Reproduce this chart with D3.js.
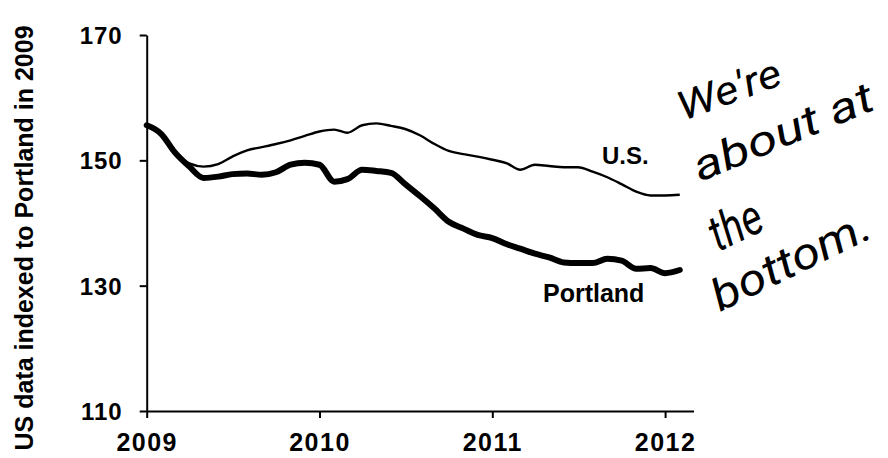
<!DOCTYPE html>
<html>
<head>
<meta charset="utf-8">
<script src="https://cdn.jsdelivr.net/npm/d3@7"></script>
<style>
  body { margin: 0; background: #fff; }
  svg { display: block; }
  text { font-family: "Liberation Sans", Arial, sans-serif; fill: #000; }
</style>
</head>
<body>
<script>
"use strict";

// monthly observations, Jan 2009 .. Feb 2012
const months = [
    "2009-01","2009-02","2009-03","2009-04","2009-05","2009-06","2009-07","2009-08","2009-09","2009-10","2009-11","2009-12",
    "2010-01","2010-02","2010-03","2010-04","2010-05","2010-06","2010-07","2010-08","2010-09","2010-10","2010-11","2010-12",
    "2011-01","2011-02","2011-03","2011-04","2011-05","2011-06","2011-07","2011-08","2011-09","2011-10","2011-11","2011-12",
    "2012-01","2012-02"
];

const usValues = [
    155.6, 154.2, 151.3, 149.5, 149.0, 149.4, 150.6, 151.6, 152.1, 152.6, 153.2, 153.9,
    154.6, 154.9, 154.4, 155.6, 155.9, 155.5, 155.0, 154.0, 152.6, 151.5, 151.0, 150.6,
    150.1, 149.5, 148.5, 149.3, 149.1, 148.9, 148.9, 148.2, 147.3, 146.2, 145.0, 144.4,
    144.4, 144.5
];

const portlandValues = [
    155.6, 154.2, 151.3, 149.0, 147.2, 147.4, 147.8, 147.9, 147.7, 148.1, 149.3, 149.6,
    149.3, 146.6, 147.0, 148.5, 148.3, 148.0, 146.2, 144.3, 142.3, 140.2, 139.1, 138.1,
    137.6, 136.6, 135.9, 135.1, 134.5, 133.7, 133.6, 133.6, 134.3, 134.0, 132.7, 132.8,
    132.0, 132.5
];

const yTicks = [110, 130, 150, 170];
const xTicks = ["2009", "2010", "2011", "2012"];
const noteLines = ["We're", "about at", "the", "bottom."];

const measurements = {
    width: 888,
    height: 458,
    left: 146.7,
    right: 693.5,
    top: 35,
    bottom: 411
};

const parseMonth = d3.timeParse("%Y-%m");
const parseYear = d3.timeParse("%Y");

const svg = d3.select("body").append("svg")
    .attr("width", measurements.width)
    .attr("height", measurements.height);

// axis runs a little past the last tick (to Mar 2012)
const scaleX = d3.scaleTime()
    .domain([parseMonth("2009-01"), parseMonth("2012-03")])
    .range([measurements.left, measurements.right]);

const scaleY = d3.scaleLinear()
    .domain([110, 170])
    .range([measurements.bottom, measurements.top]);

// axes
const yAxis = d3.axisLeft(scaleY)
    .tickValues(yTicks)
    .tickSize(7)
    .tickSizeOuter(0)
    .tickPadding(17)
    .tickFormat(d3.format("d"));

const xAxis = d3.axisBottom(scaleX)
    .tickValues(xTicks.map(parseYear))
    .tickSize(7)
    .tickSizeOuter(0)
    .tickPadding(15)
    .tickFormat(d3.timeFormat("%Y"));

const gy = svg.append("g")
    .attr("transform", `translate(${measurements.left},0)`)
    .call(yAxis);

const gx = svg.append("g")
    .attr("transform", `translate(0,${measurements.bottom})`)
    .call(xAxis);

[gx, gy].forEach(g => {
    g.select(".domain").attr("stroke", "#000").attr("stroke-width", 2);
    g.selectAll(".tick line").attr("stroke", "#000").attr("stroke-width", 2);
    g.selectAll(".tick text")
        .style("font-family", '"Liberation Sans", Arial, sans-serif')
        .style("font-weight", "bold")
        .attr("fill", "#000");
});
gy.selectAll(".tick text").style("font-size", "24px").attr("dy", "0.36em").style("letter-spacing", "1px");
gx.selectAll(".tick text").style("font-size", "25px").attr("dy", "0.72em").style("letter-spacing", "1.5px");

// y label
svg.append("text")
    .attr("transform", "translate(33,238) rotate(-90)")
    .attr("text-anchor", "middle")
    .style("font-size", "25px")
    .style("font-weight", "bold")
    .text("US data indexed to Portland in 2009");

// lines
const line = d3.line()
    .x(d => scaleX(d.date))
    .y(d => scaleY(d.value))
    .curve(d3.curveMonotoneX);

const usData = months.map((m, i) => ({ date: parseMonth(m), value: usValues[i] }));
const portlandData = months.map((m, i) => ({ date: parseMonth(m), value: portlandValues[i] }));

svg.append("path")
    .datum(usData)
    .attr("fill", "none")
    .attr("stroke", "#000")
    .attr("stroke-width", 2.4)
    .attr("stroke-linejoin", "round")
    .attr("d", line);

svg.append("path")
    .datum(portlandData)
    .attr("fill", "none")
    .attr("stroke", "#000")
    .attr("stroke-width", 6)
    .attr("stroke-linejoin", "round")
    .attr("stroke-linecap", "round")
    .attr("d", line);

// series labels
svg.append("text")
    .attr("x", 602)
    .attr("y", 164)
    .style("font-size", "24px")
    .style("font-weight", "bold")
    .text("U.S.");

svg.append("text")
    .attr("x", 543)
    .attr("y", 302)
    .style("font-size", "25px")
    .style("font-weight", "bold")
    .text("Portland");

// handwritten note
const notePos = [
    { x: 683, y: 121, angle: -20, len: 108, size: 40 },
    { x: 700, y: 182, angle: -22.5, len: 192, size: 42 },
    { x: 718, y: 252, angle: -25, len: 54, size: 50 },
    { x: 720, y: 312, angle: -26, len: 172, size: 44 }
];

svg.append("g").selectAll("text")
    .data(noteLines)
    .join("text")
    .attr("transform", (d, i) => `translate(${notePos[i].x},${notePos[i].y}) rotate(${notePos[i].angle})`)
    .attr("textLength", (d, i) => notePos[i].len)
    .attr("lengthAdjust", "spacingAndGlyphs")
    .style("font-family", 'Roboto, "DejaVu Sans", sans-serif')
    .style("font-style", "italic")
    .style("font-weight", "400")
    .style("font-size", (d, i) => notePos[i].size + "px")
    .text(d => d);
</script>
</body>
</html>
